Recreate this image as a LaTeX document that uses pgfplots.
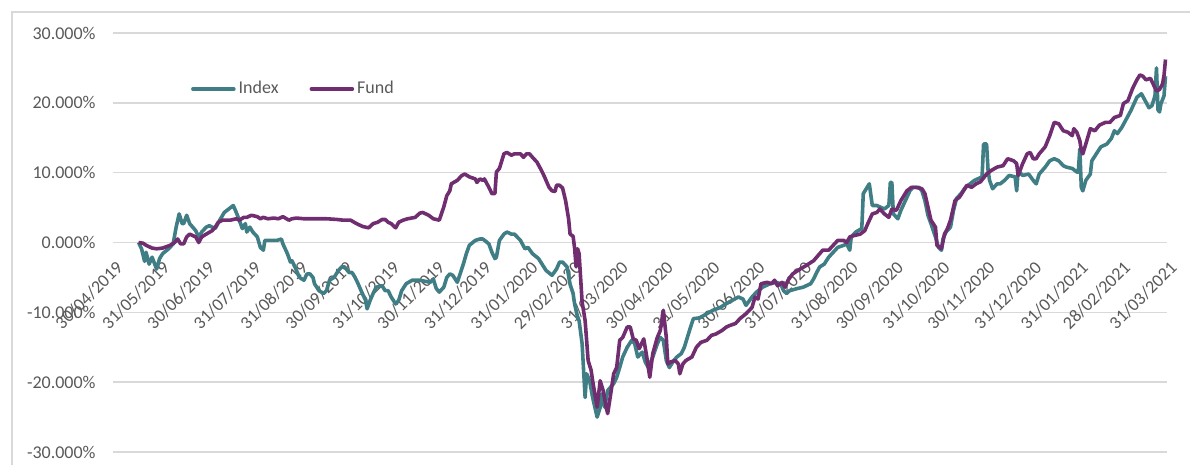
\documentclass[border=0pt]{standalone}
\usepackage{fontspec}
\setmainfont{Carlito}
\usepackage{pgfplots}
\pgfplotsset{compat=1.18}
\definecolor{indexc}{RGB}{64,126,134}
\definecolor{fundc}{RGB}{112,46,112}
\definecolor{gridgray}{RGB}{217,217,217}
\definecolor{labelgray}{RGB}{89,89,89}
\definecolor{bordergray}{RGB}{217,217,217}
\begin{document}
\begin{tikzpicture}
\path[use as bounding box] (0,0) rectangle (595pt,232.5pt);
\draw[bordergray, line width=0.6pt] (6pt,0pt) -- (6pt,226.5pt) -- (595pt,226.5pt);
\begin{axis}[
  at={(56.5pt,6.5pt)}, anchor=south west,
  scale only axis, width=527pt, height=209.5pt,
  xmin=0, xmax=701, ymin=-30, ymax=30,
  axis x line=middle, axis y line=left,
  axis line style={draw=none},
  hide obscured x ticks=false, hide obscured y ticks=false,
  ytick={-30,-20,-10,0,10,20,30},
  yticklabels={-30.000\%,-20.000\%,-10.000\%,0.000\%,10.000\%,20.000\%,30.000\%},
  xtick={0,31,61,92,123,153,184,214,245,276,305,336,366,397,427,458,489,519,550,580,611,642,670,701},
  xticklabels={30/04/2019,31/05/2019,30/06/2019,31/07/2019,31/08/2019,30/09/2019,31/10/2019,30/11/2019,31/12/2019,31/01/2020,29/02/2020,31/03/2020,30/04/2020,31/05/2020,30/06/2020,31/07/2020,31/08/2020,30/09/2020,31/10/2020,30/11/2020,31/12/2020,31/01/2021,28/02/2021,31/03/2021},
  ymajorgrids, grid style={color=gridgray, line width=0.7pt},
  major tick length=0pt,
  tick label style={font=\fontsize{9}{10}\selectfont, text=labelgray},
  yticklabel style={inner sep=0pt, anchor=east, xshift=-8.5pt},
  xticklabel style={inner sep=0pt, xshift=1pt, yshift=-8.5pt, rotate=45, anchor=north east},
  clip=false,
  legend style={at={(0.068,0.866)}, anchor=west, draw=none, fill=none,
    legend columns=2, font=\fontsize{9}{10}\selectfont, text=labelgray,
    /tikz/every even column/.append style={column sep=14pt},
    nodes={inner sep=1.5pt}},
  legend image code/.code={\draw[#1, line width=1.8pt, line cap=round] (0pt,0pt) -- (20.5pt,0pt);},
]
\addplot[indexc, line width=1.8pt, line join=round] coordinates {
(17,0.0)(19,-0.9)(21,-2.7)(22,-1.4)(24,-3.1)(26,-2.1)(29,-3.8)(31,-2.3)(33,-1.6)(37,-0.9)
(40,-0.2)(42,2.2)(44,4.1)(46,2.7)(47,2.7)(49,3.9)(51,2.7)(55,1.7)(57,0.8)(59,1.5)
(62,2.2)(64,2.4)(68,2.0)(71,3.2)(74,4.3)(77,4.8)(80,5.3)(82,4.3)(84,3.2)(86,2.0)
(88,2.7)(89,1.5)(91,2.2)(93,1.5)(96,0.8)(98,-0.7)(100,-1.1)(101,0.3)(104,0.3)(109,0.3)
(112,0.5)(113,-0.2)(116,-1.6)(118,-2.8)(119,-2.6)(121,-3.5)(122,-4.0)(124,-5.0)(127,-5.4)(129,-4.5)
(131,-4.5)(133,-5.0)(134,-5.9)(137,-6.9)(140,-7.3)(142,-6.9)(144,-5.4)(147,-5.0)(150,-4.0)(152,-3.5)
(154,-3.5)(157,-4.3)(159,-4.3)(161,-5.0)(163,-5.9)(165,-6.9)(168,-8.3)(169,-9.5)(171,-8.3)(173,-7.3)
(175,-6.4)(179,-6.2)(181,-6.9)(183,-6.9)(185,-7.8)(188,-8.8)(190,-8.3)(192,-6.9)(195,-5.9)(199,-5.4)
(204,-5.4)(211,-5.7)(213,-5.2)(215,-6.6)(217,-7.1)(220,-6.4)(222,-5.0)(224,-4.5)(226,-4.7)(229,-5.7)
(233,-3.1)(235,-1.6)(237,-0.4)(241,0.3)(244,0.5)(246,0.5)(250,-0.2)(252,-1.4)(254,-2.3)(255,-2.1)
(257,0.3)(260,1.2)(262,1.5)(265,1.2)(267,1.2)(271,0.3)(274,-0.9)(276,-0.7)(279,-1.6)(283,-2.3)
(288,-4.0)(292,-4.7)(295,-3.8)(297,-2.8)(299,-2.8)(302,-3.5)(304,-6.0)(306,-7.3)(307,-8.8)(309,-10.7)
(310,-11.2)(312,-14.5)(314,-22.2)(315,-18.8)(317,-19.8)(319,-22.2)(322,-25.0)(324,-23.6)(325,-21.7)(327,-23.6)
(329,-21.2)(333,-20.2)(335,-19.3)(337,-17.9)(339,-16.4)(342,-15.0)(345,-14.0)(347,-14.5)(349,-16.4)(352,-15.7)
(354,-17.1)(356,-17.9)(359,-16.4)(362,-14.5)(364,-13.6)(366,-14.0)(368,-16.9)(370,-17.9)(373,-16.9)(375,-16.4)
(378,-15.9)(380,-15.0)(384,-12.2)(386,-10.9)(390,-10.8)(395,-10.2)(399,-9.7)(404,-9.3)(406,-9.0)(410,-8.5)
(416,-7.8)(419,-8.1)(421,-9.0)(425,-7.8)(428,-7.1)(432,-6.4)(437,-5.9)(441,-5.7)(444,-5.9)(446,-6.9)
(448,-7.3)(450,-6.9)(455,-6.6)(459,-6.4)(464,-5.9)(466,-5.2)(468,-4.3)(470,-3.5)(473,-3.1)(476,-2.1)
(479,-1.4)(482,-0.7)(486,-0.4)(488,-0.2)(490,-1.1)(491,0.8)(494,1.5)(498,2.0)(499,7.0)(501,7.7)
(503,8.4)(505,5.3)(508,5.3)(510,5.1)(513,4.8)(516,5.3)(517,8.6)(518,8.6)(519,4.1)(522,3.4)
(524,4.6)(527,6.0)(530,7.4)(532,7.9)(536,7.9)(538,7.4)(540,6.0)(542,3.9)(544,2.7)(547,0.8)
(549,-0.7)(551,-1.1)(552,0.5)(554,1.5)(557,2.2)(559,4.6)(561,6.3)(564,7.0)(567,7.9)(570,8.4)
(573,8.9)(578,9.4)(579,14.1)(581,14.1)(582,10.3)(583,8.9)(585,7.7)(588,8.4)(590,8.4)(593,8.9)
(596,9.6)(600,9.4)(601,7.4)(602,10.3)(605,9.6)(609,9.8)(612,8.9)(614,8.4)(616,9.8)(620,10.8)
(623,11.7)(626,12.0)(629,11.7)(632,11.0)(634,10.8)(638,10.6)(641,10.1)(642,10.1)(643,13.4)(644,7.9)
(645,7.4)(647,8.9)(650,9.8)(651,11.7)(654,12.7)(657,13.7)(661,14.1)(664,14.9)(666,16.0)(668,15.6)
(671,16.5)(674,17.7)(677,18.9)(681,20.8)(684,21.3)(686,20.5)(689,19.3)(691,19.6)(692,20.3)(693,21.0)
(694,25.0)(695,19.0)(696,18.7)(697,19.9)(699,21.0)(700,23.8)
};
\addlegendentry{Index}
\addplot[fundc, line width=1.8pt, line join=round] coordinates {
(17,0.0)(20,-0.1)(22,-0.4)(26,-0.8)(29,-0.9)(33,-0.8)(38,-0.4)(41,0.0)(43,0.5)(45,-0.2)
(47,-0.2)(49,0.8)(51,1.2)(55,0.8)(57,0.0)(59,0.8)(62,1.2)(66,1.7)(68,2.2)(70,2.9)
(73,3.2)(78,3.2)(82,3.4)(84,3.2)(87,3.6)(89,3.6)(92,3.9)(96,3.7)(98,3.4)(100,3.6)
(103,3.4)(107,3.5)(110,3.4)(113,3.7)(117,3.2)(119,3.4)(122,3.5)(127,3.4)(142,3.4)(149,3.3)
(153,3.2)(158,3.2)(162,2.7)(166,2.3)(170,2.1)(173,2.7)(176,2.9)(179,3.3)(181,3.3)(183,2.9)
(185,2.7)(188,2.1)(190,2.9)(193,3.2)(196,3.4)(201,3.6)(204,4.2)(206,4.3)(210,3.9)(213,3.4)
(217,3.2)(220,5.1)(222,6.7)(224,7.4)(225,8.4)(229,8.9)(232,9.6)(234,9.8)(237,9.4)(241,9.1)
(242,8.6)(244,9.1)(246,8.9)(247,9.1)(250,7.9)(252,7.0)(254,7.0)(255,10.1)(257,10.6)(260,12.7)
(262,12.9)(265,12.5)(267,12.7)(271,12.7)(273,12.2)(275,12.7)(277,12.7)(279,12.2)(282,11.5)(285,10.3)
(287,9.4)(290,7.9)(292,7.4)(294,7.3)(295,8.2)(297,8.2)(299,7.8)(301,6.0)(303,3.4)(304,1.2)
(306,0.9)(307,-0.8)(308,-3.5)(309,-0.9)(310,-1.6)(312,-8.5)(314,-11.2)(315,-14.0)(316,-16.9)(318,-18.3)
(319,-19.8)(322,-23.6)(323,-21.7)(324,-19.8)(326,-21.2)(328,-23.6)(329,-24.5)(331,-21.7)(333,-18.8)(335,-17.9)
(337,-14.0)(339,-13.6)(342,-12.1)(344,-12.1)(346,-13.8)(348,-14.0)(350,-15.2)(353,-13.8)(355,-16.4)(357,-19.3)
(359,-15.9)(362,-13.6)(364,-12.6)(366,-9.7)(368,-13.6)(369,-17.4)(371,-17.1)(374,-16.9)(376,-17.4)(377,-18.8)
(379,-17.4)(381,-16.9)(385,-16.4)(388,-15.0)(391,-14.3)(395,-14.0)(398,-13.3)(401,-13.1)(405,-12.6)(408,-12.1)
(410,-11.9)(414,-11.6)(417,-10.9)(421,-10.2)(425,-9.3)(427,-7.8)(429,-8.1)(431,-5.9)(435,-5.7)(438,-5.9)
(440,-5.4)(442,-6.2)(445,-5.7)(447,-6.4)(449,-5.4)(452,-4.5)(457,-3.8)(461,-3.3)(466,-2.6)(470,-1.6)
(472,-1.1)(476,-1.1)(479,-0.4)(482,0.3)(486,0.3)(488,0.0)(490,0.8)(493,1.0)(497,1.2)(500,1.7)
(502,2.7)(505,4.1)(508,4.3)(510,4.8)(513,4.1)(516,3.6)(518,4.8)(521,4.6)(524,6.0)(528,7.4)
(531,7.9)(534,7.9)(538,7.7)(540,7.0)(542,5.1)(544,3.2)(547,2.2)(548,-0.4)(551,-0.9)(553,1.2)
(555,2.0)(557,3.2)(560,6.0)(563,6.5)(568,8.2)(571,7.9)(574,8.4)(577,8.7)(581,9.8)(584,10.3)
(588,10.8)(592,11.0)(595,12.0)(599,11.7)(601,11.3)(602,9.6)(605,11.3)(608,12.7)(610,12.9)(612,12.0)
(614,12.0)(616,12.7)(620,13.7)(623,15.3)(626,17.2)(629,17.0)(632,16.0)(635,15.8)(638,15.3)(639,16.3)
(641,15.8)(643,14.6)(644,13.2)(645,12.7)(647,14.1)(650,16.3)(653,16.0)(656,16.8)(660,17.2)(663,17.2)
(666,17.9)(670,18.2)(672,19.9)(675,20.3)(678,22.0)(681,23.3)(683,24.0)(685,23.8)(687,23.3)(690,23.5)
(692,22.6)(694,21.7)(696,21.9)(698,22.7)(699,23.9)(700,26.2)
};
\addlegendentry{Fund}
\end{axis}
\end{tikzpicture}
\end{document}
